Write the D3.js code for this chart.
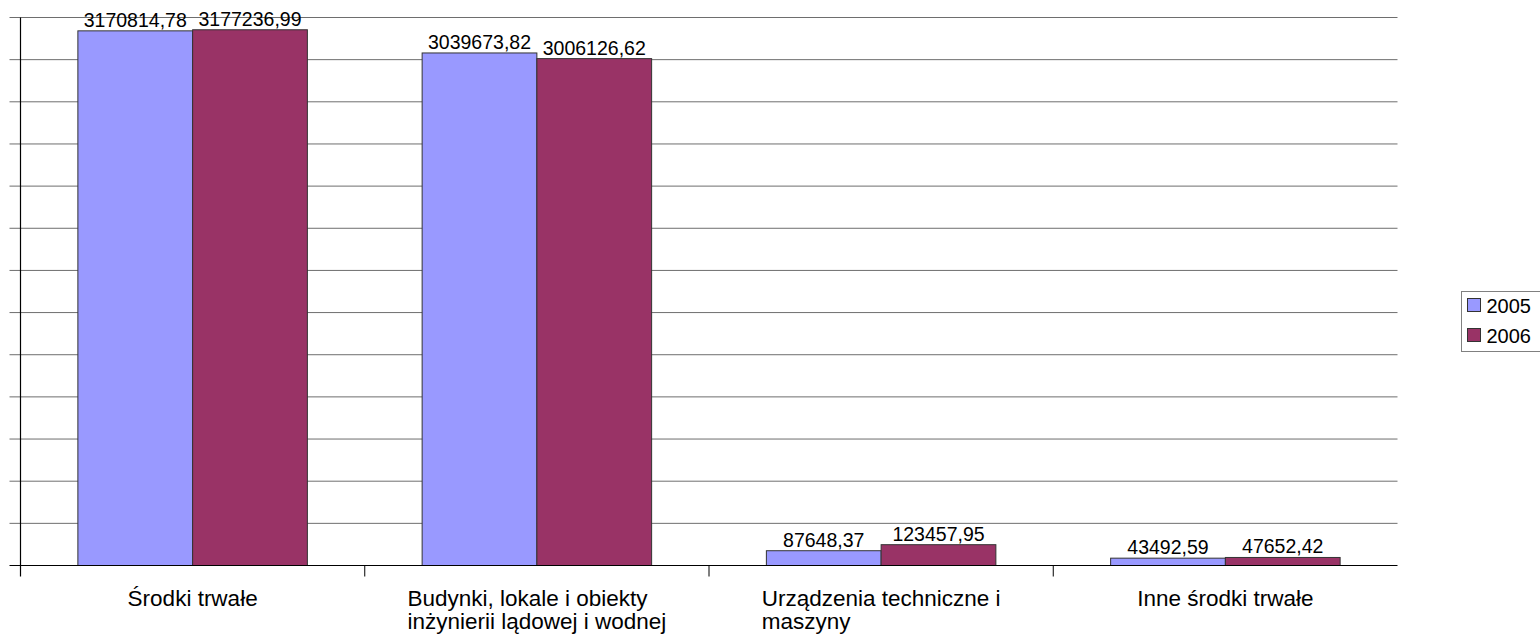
<!DOCTYPE html>
<html>
<head>
<meta charset="utf-8">
<script src="https://cdn.jsdelivr.net/npm/d3@7"></script>
<style>
  body { margin: 0; background: #fff; }
  svg text { font-family: "Liberation Sans", Arial, sans-serif; fill: #000; }
</style>
</head>
<body>
<div id="vis"></div>
<script>
var categories = ["Środki trwałe", "Budynki, lokale i obiekty\ninżynierii lądowej i wodnej", "Urządzenia techniczne i\nmaszyny", "Inne środki trwałe"];
var series = ["2005", "2006"];
var values2005 = [3170814.78, 3039673.82, 87648.37, 43492.59];
var values2006 = [3177236.99, 3006126.62, 123457.95, 47652.42];
var yTicks = [0, 250000, 500000, 750000, 1000000, 1250000, 1500000, 1750000, 2000000, 2250000, 2500000, 2750000, 3000000, 3250000];
var colors = ["#9999ff", "#993366"];

var width = 1540, height = 635;
var margin = { top: 17.5, left: 20.5, right: 142.5, bottom: 69.5 };

var svg = d3.select("#vis").append("svg")
    .attr("width", width)
    .attr("height", height);

var plotW = width - margin.left - margin.right;
var plotH = height - margin.top - margin.bottom;

var g = svg.append("g")
    .attr("transform", "translate(" + margin.left + "," + margin.top + ")");

var xscale = d3.scaleBand()
    .domain(categories)
    .range([0, plotW]);

var xinner = d3.scaleBand()
    .domain(series)
    .range([0, xscale.bandwidth()])
    .paddingOuter(0.5);

var yscale = d3.scaleLinear()
    .domain([0, d3.max(yTicks)])
    .range([plotH, 0]);

var fmt = d3.formatLocale({ decimal: ",", thousands: "", grouping: [3], currency: ["", ""] }).format(".2f");

// gridlines + left ticks
g.selectAll(".grid")
    .data(yTicks.filter(function(d) { return d > 0; }))
    .enter().append("line")
    .attr("class", "grid")
    .attr("x1", -11)
    .attr("x2", plotW)
    .attr("y1", function(d) { return yscale(d); })
    .attr("y2", function(d) { return yscale(d); })
    .attr("stroke", "#6e6e6e")
    .attr("stroke-width", 1);

var data = [];
categories.forEach(function(c, i) {
    data.push({ cat: c, s: "2005", v: values2005[i], color: colors[0] });
    data.push({ cat: c, s: "2006", v: values2006[i], color: colors[1] });
});

g.selectAll(".bar")
    .data(data)
    .enter().append("rect")
    .attr("class", "bar")
    .attr("x", function(d) { return xscale(d.cat) + xinner(d.s); })
    .attr("y", function(d) { return yscale(d.v); })
    .attr("width", xinner.bandwidth())
    .attr("height", function(d) { return plotH - yscale(d.v); })
    .attr("fill", function(d) { return d.color; })
    .attr("stroke", "#333")
    .attr("stroke-width", 1);

g.selectAll(".val")
    .data(data)
    .enter().append("text")
    .attr("class", "val")
    .attr("x", function(d) { return xscale(d.cat) + xinner(d.s) + xinner.bandwidth() / 2; })
    .attr("y", function(d) { return yscale(d.v) - 4; })
    .attr("text-anchor", "middle")
    .style("font-size", "19.5px")
    .text(function(d) { return fmt(d.v); });

// axes
g.append("line")
    .attr("x1", -11).attr("x2", plotW)
    .attr("y1", plotH).attr("y2", plotH)
    .attr("stroke", "#000").attr("stroke-width", 1.2);

g.append("line")
    .attr("x1", 0).attr("x2", 0)
    .attr("y1", 0).attr("y2", plotH + 11)
    .attr("stroke", "#000").attr("stroke-width", 1.2);

g.selectAll(".xtick")
    .data(categories.slice(1))
    .enter().append("line")
    .attr("x1", function(d) { return xscale(d); })
    .attr("x2", function(d) { return xscale(d); })
    .attr("y1", plotH).attr("y2", plotH + 11)
    .attr("stroke", "#000").attr("stroke-width", 1);

// category labels: left aligned block, centred on the band
var labels = g.selectAll(".cat")
    .data(categories)
    .enter().append("text")
    .attr("class", "cat")
    .style("font-size", "22.5px");

labels.each(function(d) {
    var t = d3.select(this);
    var lines = d.split("\n");
    lines.forEach(function(l, i) {
        t.append("tspan").attr("x", 0).attr("y", plotH + 40 + i * 23).text(l);
    });
    var w = this.getBBox().width;
    t.attr("transform", "translate(" + (xscale(d) + xscale.bandwidth() / 2 - w / 2) + ",0)");
});

// legend
var lg = svg.append("g").attr("transform", "translate(1461.5,291.5)");
lg.append("rect")
    .attr("width", 90).attr("height", 60)
    .attr("fill", "#fff").attr("stroke", "#808080").attr("stroke-width", 1);

series.forEach(function(s, i) {
    lg.append("rect")
        .attr("x", 6).attr("y", 7 + i * 30)
        .attr("width", 13).attr("height", 13)
        .attr("fill", colors[i]).attr("stroke", "#333").attr("stroke-width", 1);
    lg.append("text")
        .attr("x", 25).attr("y", 21 + i * 30)
        .style("font-size", "20px")
        .text(s);
});
</script>
</body>
</html>
